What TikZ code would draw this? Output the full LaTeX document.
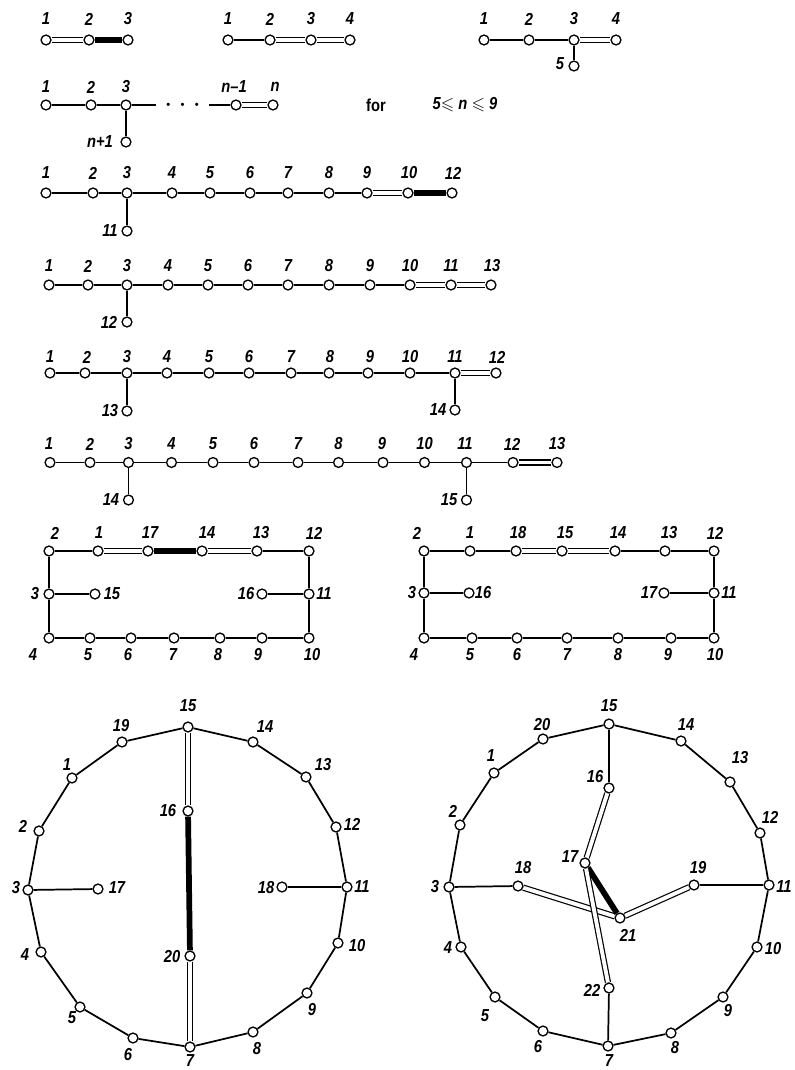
\documentclass[tikz,border=0pt]{standalone}
\usepackage{amssymb}
\usepackage{fontspec}
\setmainfont{Liberation Sans}[FakeStretch=0.85]
\usetikzlibrary{backgrounds}
\tikzset{
  vx/.style={circle, draw, fill=white, line width=1.0pt, inner sep=0pt, minimum size=7.4pt},
  lab/.style={font=\fontsize{13}{15}\selectfont\bfseries\itshape, inner sep=0pt},
  txt/.style={font=\fontsize{13}{15}\selectfont\bfseries, inner sep=0pt},
  e/.style={line width=1.3pt},
  dbl/.style={line width=0.9pt, double=white, double distance=2.9pt},
  thk/.style={line width=4.3pt}
}
\newcommand\vt[6]{\node[vx] (#1) at (#2,#3) {}; \node[lab] (#1l) at (#5,#6) {#4};}
\begin{document}
\begin{tikzpicture}[x=0.75pt,y=-0.75pt]
\path[use as bounding box] (0,0) rectangle (794,1070);
% ---------- row 1
\vt{a1}{46}{40}{1}{46}{19}
\vt{a2}{89}{40}{2}{89}{19}
\vt{a3}{128}{40}{3}{128}{19}
\vt{b1}{228}{40}{1}{228}{19}
\vt{b2}{270}{40}{2}{270}{19}
\vt{b3}{311}{40}{3}{311}{19}
\vt{b4}{350}{40}{4}{350}{19}
\vt{c1}{484}{40}{1}{484}{19}
\vt{c2}{529}{40}{2}{529}{19}
\vt{c3}{574}{40}{3}{574}{19}
\vt{c4}{616}{40}{4}{616}{19}
\vt{c5}{574}{66}{5}{560}{64}
% ---------- row 2
\vt{d1}{46}{105}{1}{46}{87}
\vt{d2}{91}{105}{2}{91}{87}
\vt{d3}{126}{105}{3}{126}{87}
\vt{dq}{126}{142}{n+1}{100}{142}
\coordinate (dA) at (156,105);
\coordinate (dB) at (209,105);
\node[inner sep=0pt] (dots) at (182.5,105) {\tiny$\bullet$\hspace{7pt}$\bullet$\hspace{7pt}$\bullet$};
\vt{dm}{236}{105}{n–1}{234}{87}
\vt{dn}{273}{105}{n}{275}{87}
\node[txt] (for) at (376,105) {for};
\node[lab] (cond) at (465,105) {5$\leqslant$ n $\leqslant$ 9};
% ---------- row 3
\vt{e1}{46}{193}{1}{46}{173}
\vt{e2}{93}{193}{2}{93}{173}
\vt{e3}{127}{193}{3}{127}{173}
\vt{e4}{172}{193}{4}{172}{173}
\vt{e5}{210}{193}{5}{210}{173}
\vt{e6}{250}{193}{6}{250}{173}
\vt{e7}{288}{193}{7}{288}{173}
\vt{e8}{329}{193}{8}{329}{173}
\vt{e9}{367}{193}{9}{367}{173}
\vt{e10}{408}{193}{10}{409}{173}
\vt{e12}{452}{193}{12}{453}{173}
\vt{e11}{127}{231}{11}{110}{231}
% ---------- row 4
\vt{f1}{49}{285}{1}{49}{266}
\vt{f2}{88}{285}{2}{88}{266}
\vt{f3}{127}{285}{3}{127}{266}
\vt{f4}{168}{285}{4}{168}{266}
\vt{f5}{208}{285}{5}{208}{266}
\vt{f6}{248}{285}{6}{248}{266}
\vt{f7}{288}{285}{7}{288}{266}
\vt{f8}{329}{285}{8}{329}{266}
\vt{f9}{370}{285}{9}{370}{266}
\vt{f10}{410}{285}{10}{410}{266}
\vt{f11}{451}{285}{11}{451}{266}
\vt{f13}{491}{285}{13}{492}{266}
\vt{f12}{127}{322}{12}{109}{322}
% ---------- row 5
\vt{g1}{50}{373}{1}{50}{357}
\vt{g2}{85}{373}{2}{87}{357}
\vt{g3}{127}{373}{3}{127}{357}
\vt{g4}{167}{373}{4}{167}{357}
\vt{g5}{209}{373}{5}{209}{357}
\vt{g6}{249}{373}{6}{249}{357}
\vt{g7}{291}{373}{7}{291}{357}
\vt{g8}{329}{373}{8}{330}{357}
\vt{g9}{368}{373}{9}{370}{357}
\vt{g10}{410}{373}{10}{410}{357}
\vt{g11}{455}{373}{11}{455}{357}
\vt{g12}{496}{373}{12}{497}{357}
\vt{g13}{127}{411}{13}{110}{411}
\vt{g14}{455}{410}{14}{438}{410}
% ---------- row 6
\vt{h1}{50}{462.5}{1}{49}{444}
\vt{h2}{90}{462.5}{2}{90}{444}
\vt{h3}{128.5}{462.5}{3}{128.5}{444}
\vt{h4}{171.5}{462.5}{4}{171.5}{444}
\vt{h5}{213}{462.5}{5}{213}{444}
\vt{h6}{254}{462.5}{6}{254}{444}
\vt{h7}{298}{462.5}{7}{298}{444}
\vt{h8}{338.5}{462.5}{8}{338.5}{444}
\vt{h9}{383}{462.5}{9}{382}{444}
\vt{h10}{424.5}{462.5}{10}{424.5}{444}
\vt{h11}{466.5}{462.5}{11}{465}{444}
\vt{h12}{513}{462.5}{12}{512}{444}
\vt{h13}{557}{462.5}{13}{557}{444}
\vt{h14}{128.5}{500}{14}{111}{500}
\vt{h15}{466.5}{500}{15}{449}{500}
% ---------- left rectangle
\vt{p2}{49}{551}{2}{55}{533}
\vt{p1}{98}{551}{1}{99}{533}
\vt{p17}{148}{551}{17}{150}{533}
\vt{p14}{202}{551}{14}{207}{533}
\vt{p13}{257}{551}{13}{261}{533}
\vt{p12}{309}{551}{12}{314}{533}
\vt{p3}{49}{594}{3}{35}{594}
\vt{p15}{95}{594}{15}{112}{594}
\vt{p16}{262}{594}{16}{246}{594}
\vt{p11}{309}{594}{11}{324}{594}
\vt{p4}{49}{638}{4}{33}{655}
\vt{p5}{90}{638}{5}{88}{655}
\vt{p6}{131}{638}{6}{128}{655}
\vt{p7}{174}{638}{7}{173}{655}
\vt{p8}{220}{638}{8}{218}{655}
\vt{p9}{262}{638}{9}{258}{655}
\vt{p10}{309}{638}{10}{312}{655}
% ---------- right rectangle
\vt{q2}{424}{551}{2}{417}{533}
\vt{q1}{470}{551}{1}{470}{533}
\vt{q18}{516}{551}{18}{518}{533}
\vt{q15}{562}{551}{15}{565}{533}
\vt{q14}{615}{551}{14}{618}{533}
\vt{q13}{665}{551}{13}{669}{533}
\vt{q12}{714}{551}{12}{715}{533}
\vt{q3}{424}{593}{3}{412}{593}
\vt{q16}{469}{593}{16}{483}{593}
\vt{q17}{664}{593}{17}{649}{593}
\vt{q11}{714}{593}{11}{729}{593}
\vt{q4}{424}{638}{4}{414}{655}
\vt{q5}{472}{638}{5}{470}{655}
\vt{q6}{517}{638}{6}{517}{655}
\vt{q7}{567}{638}{7}{567}{655}
\vt{q8}{618}{638}{8}{618}{655}
\vt{q9}{671}{638}{9}{668}{655}
\vt{q10}{714}{638}{10}{715}{655}
% ---------- left circle
\vt{r15}{188}{727}{15}{188}{706}
\vt{r19}{122}{742}{19}{121}{726}
\vt{r1}{72}{778}{1}{67}{765}
\vt{r2}{39}{831}{2}{23}{826}
\vt{r3}{28}{890}{3}{16}{888}
\vt{r17}{98}{889}{17}{117}{888}
\vt{r4}{41}{952}{4}{25}{955}
\vt{r5}{80}{1007}{5}{72}{1018}
\vt{r6}{133}{1038}{6}{128}{1055}
\vt{r7}{190}{1047}{7}{190}{1061}
\vt{r8}{253}{1032}{8}{257}{1049}
\vt{r9}{307}{993}{9}{312}{1010}
\vt{r10}{338}{943}{10}{357}{946}
\vt{r11}{347}{887}{11}{362}{887}
\vt{r18}{282}{887}{18}{266}{888}
\vt{r12}{336}{827}{12}{352}{824}
\vt{r13}{306}{777}{13}{323}{765}
\vt{r14}{253}{742}{14}{265}{727}
\vt{r16}{188}{811}{16}{168}{811}
\vt{r20}{190}{956}{20}{172}{957}
% ---------- right circle
\vt{s15}{609}{724}{15}{609}{706}
\vt{s20}{543}{739}{20}{542}{725}
\vt{s1}{494}{773}{1}{491}{756}
\vt{s2}{460}{825}{2}{453}{811}
\vt{s3}{449}{887}{3}{435}{887}
\vt{s4}{461}{947}{4}{448}{948}
\vt{s5}{495}{997}{5}{485}{1016}
\vt{s6}{543}{1031}{6}{538}{1047}
\vt{s7}{608}{1046}{7}{609}{1061}
\vt{s8}{671}{1033}{8}{675}{1048}
\vt{s9}{723}{997}{9}{728}{1011}
\vt{s10}{757}{947}{10}{773}{949}
\vt{s11}{769}{885}{11}{784}{887}
\vt{s12}{760}{833}{12}{770}{817}
\vt{s13}{730}{782}{13}{740}{758}
\vt{s14}{681}{741}{14}{686}{725}
\vt{s16}{609}{788}{16}{595}{777}
\vt{s17}{585}{863}{17}{570}{857}
\vt{s18}{518}{886}{18}{523}{868}
\vt{s19}{694}{885}{19}{698}{868}
\vt{s21}{620}{918}{21}{628}{935}
\vt{s22}{609}{988}{22}{592}{990}
% ---------- edges
\begin{scope}[on background layer]
\fill[white] (0,0) rectangle (794,1070);
% row 1
\draw[dbl] (a1) -- (a2); \draw[thk] (a2) -- (a3);
\draw[e] (b1) -- (b2); \draw[dbl] (b2) -- (b3); \draw[dbl] (b3) -- (b4);
\draw[e] (c1) -- (c2) -- (c3) -- (c5); \draw[dbl] (c3) -- (c4);
% row 2
\draw[e] (d1) -- (d2) -- (d3) -- (dA); \draw[e] (d3) -- (dq);
\draw[e] (dB) -- (dm); \draw[dbl] (dm) -- (dn);
% row 3
\draw[e] (e1) -- (e2) -- (e3) -- (e4) -- (e5) -- (e6) -- (e7) -- (e8) -- (e9);
\draw[e] (e3) -- (e11);
\draw[dbl] (e9) -- (e10); \draw[thk] (e10) -- (e12);
% row 4
\draw[e] (f1) -- (f2) -- (f3) -- (f4) -- (f5) -- (f6) -- (f7) -- (f8) -- (f9) -- (f10);
\draw[e] (f3) -- (f12);
\draw[dbl] (f10) -- (f11); \draw[dbl] (f11) -- (f13);
% row 5
\draw[e] (g1) -- (g2) -- (g3) -- (g4) -- (g5) -- (g6) -- (g7) -- (g8) -- (g9) -- (g10) -- (g11);
\draw[e] (g3) -- (g13); \draw[e] (g11) -- (g14);
\draw[dbl] (g11) -- (g12);
% row 6
\draw[e] (h1) -- (h2) -- (h3) -- (h4) -- (h5) -- (h6) -- (h7) -- (h8) -- (h9) -- (h10) -- (h11) -- (h12);
\draw[e] (h3) -- (h14); \draw[e] (h11) -- (h15);
\draw[dbl] (h12) -- (h13);
% left rectangle
\draw[e] (p1) -- (p2) -- (p3) -- (p4) -- (p5) -- (p6) -- (p7) -- (p8) -- (p9) -- (p10) -- (p11) -- (p12) -- (p13);
\draw[e] (p3) -- (p15); \draw[e] (p11) -- (p16);
\draw[dbl] (p1) -- (p17); \draw[thk] (p17) -- (p14); \draw[dbl] (p14) -- (p13);
% right rectangle
\draw[e] (q18) -- (q1) -- (q2) -- (q3) -- (q4) -- (q5) -- (q6) -- (q7) -- (q8) -- (q9) -- (q10) -- (q11) -- (q12) -- (q13) -- (q14);
\draw[e] (q3) -- (q16); \draw[e] (q11) -- (q17);
\draw[dbl] (q18) -- (q15); \draw[dbl] (q15) -- (q14);
% left circle
\draw[e] (r15) -- (r14) -- (r13) -- (r12) -- (r11) -- (r10) -- (r9) -- (r8) -- (r7) -- (r6) -- (r5) -- (r4) -- (r3) -- (r2) -- (r1) -- (r19) -- (r15);
\draw[e] (r3) -- (r17); \draw[e] (r11) -- (r18);
\draw[dbl] (r15) -- (r16); \draw[thk] (r16) -- (r20); \draw[dbl] (r20) -- (r7);
% right circle
\draw[e] (s15) -- (s14) -- (s13) -- (s12) -- (s11) -- (s10) -- (s9) -- (s8) -- (s7) -- (s6) -- (s5) -- (s4) -- (s3) -- (s2) -- (s1) -- (s20) -- (s15);
\draw[e] (s15) -- (s16); \draw[e] (s22) -- (s7);
\draw[e] (s3) -- (s18); \draw[e] (s19) -- (s11);
\draw[dbl] (s16) -- (s17);
\draw[dbl] (s18) -- (s21); \draw[dbl] (s21) -- (s19);
\draw[thk] (s17) -- (s21);
\draw[dbl] (s17) -- (s22);
\end{scope}
\end{tikzpicture}
\end{document}
